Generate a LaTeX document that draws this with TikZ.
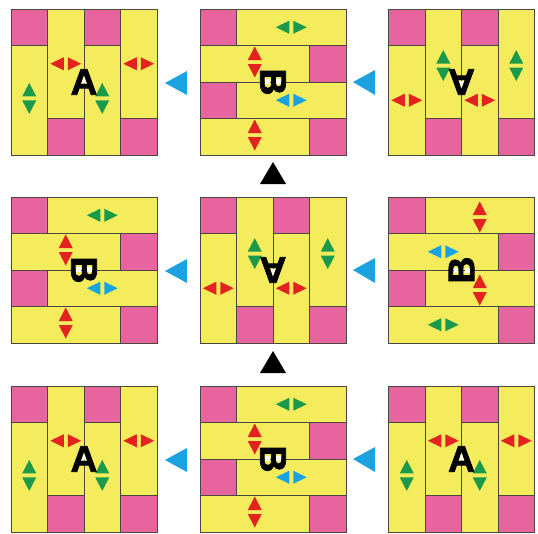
\documentclass[tikz,border=0pt]{standalone}
\usepackage{fontspec}
\newfontfamily\heavy[FakeBold=2]{Liberation Sans}
\definecolor{pyellow}{HTML}{F4EC5C}
\definecolor{ppink}{HTML}{E8649F}
\definecolor{pgreen}{HTML}{1A9A4A}
\definecolor{pred}{HTML}{E3231F}
\definecolor{pblue}{HTML}{1AA3E0}
\definecolor{pline}{HTML}{4A4740}
\tikzset{
  gridline/.style={draw=pline, line width=0.9pt},
  pinkcell/.style={fill=ppink},
  counter/.style={fill=white},
  letter/.style={font=\heavy\bfseries\fontsize{37}{37}\selectfont, inner sep=0pt, transform shape},
  bluetri/.style={fill=pblue},
  blacktri/.style={fill=black},
  hpair/.pic={
    \fill[pic actions] (-15.5,0) -- (-2,-6.5) -- (-2,6.5) -- cycle;
    \fill[pic actions] (15.5,0) -- (2,-6.5) -- (2,6.5) -- cycle;
  },
  vpair/.pic={
    \fill[pic actions] (0,-15.5) -- (-7,-2) -- (7,-2) -- cycle;
    \fill[pic actions] (0,15.5) -- (-7,2) -- (7,2) -- cycle;
  },
}
% panel type A (vertical bricks), centred at origin, cell 36.5
\newcommand\panelA[2]{%
  \fill[pyellow] (-73,-73) rectangle (73,73);
  \fill[pinkcell] (-73,-73) rectangle (-36.5,-36.5);
  \fill[pinkcell] (0,-73) rectangle (36.5,-36.5);
  \fill[pinkcell] (-36.5,36.5) rectangle (0,73);
  \fill[pinkcell] (36.5,36.5) rectangle (73,73);
  \draw[gridline] (-36.5,-73) -- (-36.5,73) (0,-73) -- (0,73) (36.5,-73) -- (36.5,73);
  \draw[gridline] (-73,-36.5) -- (-36.5,-36.5) (0,-36.5) -- (36.5,-36.5)
                  (-36.5,36.5) -- (0,36.5) (36.5,36.5) -- (73,36.5);
  \draw[gridline] (-73,-73) rectangle (73,73);
  \pic[pred] at (-18.25,-18.25) {hpair};
  \pic[pred] at (54.75,-18.25) {hpair};
  \pic[pgreen] at (-54.75,16.4) {vpair};
  \pic[pgreen] at (18.25,16.4) {vpair};
  \fill[counter] (0,-6.5) -- (-2.4,1.2) -- (2.4,1.2) -- cycle;
  \node[letter] (#1) at (0,0) {A};
}
% panel type B (horizontal bricks)
\newcommand\panelB[2]{%
  \fill[pyellow] (-73,-73) rectangle (73,73);
  \fill[pinkcell] (-73,-73) rectangle (-36.5,-36.5);
  \fill[pinkcell] (36.5,-36.5) rectangle (73,0);
  \fill[pinkcell] (-73,0) rectangle (-36.5,36.5);
  \fill[pinkcell] (36.5,36.5) rectangle (73,73);
  \draw[gridline] (-73,-36.5) -- (73,-36.5) (-73,0) -- (73,0) (-73,36.5) -- (73,36.5);
  \draw[gridline] (-36.5,-73) -- (-36.5,-36.5) (36.5,-36.5) -- (36.5,0)
                  (-36.5,0) -- (-36.5,36.5) (36.5,36.5) -- (36.5,73);
  \draw[gridline] (-73,-73) rectangle (73,73);
  \pic[pgreen] at (18.25,-54.75) {hpair};
  \pic[pred] at (-18.25,-20) {vpair};
  \pic[pblue] at (18.25,18.25) {hpair};
  \pic[pred] at (-18.25,53) {vpair};
  \fill[counter] (3.2,-3.4) rectangle (8,1.6);
  \fill[counter] (-8,-3.4) rectangle (-3.2,1.6);
  \node[letter, rotate=-90] (#1) at (0,0) {B};
}
\begin{document}
\begin{tikzpicture}[x=1pt, y=-1pt]
  \useasboundingbox (0,0) rectangle (538,533);
  \fill[white] (0,0) rectangle (538,533);
  % row 1
  \begin{scope}[shift={(84,82)}]\panelA{p1}{}\end{scope}
  \begin{scope}[shift={(273,82)}]\panelB{p2}{}\end{scope}
  \begin{scope}[shift={(461.5,82)}, rotate=180]\panelA{p3}{}\end{scope}
  % row 2
  \begin{scope}[shift={(84,270)}]\panelB{p4}{}\end{scope}
  \begin{scope}[shift={(273,270)}, rotate=180]\panelA{p5}{}\end{scope}
  \begin{scope}[shift={(461.5,270)}, rotate=180]\panelB{p6}{}\end{scope}
  % row 3
  \begin{scope}[shift={(84,459)}]\panelA{p7}{}\end{scope}
  \begin{scope}[shift={(273,459)}]\panelB{p8}{}\end{scope}
  \begin{scope}[shift={(461.5,459)}]\panelA{p9}{}\end{scope}
  % blue arrows (right to left)
  \foreach \cy in {82,270,459}{
    \fill[bluetri] (165,\cy+1) -- (187,\cy-11) -- (187,\cy+13) -- cycle;
    \fill[bluetri] (353,\cy) -- (375,\cy-12) -- (375,\cy+13) -- cycle;
  }
  % black arrows (upwards)
  \fill[blacktri] (273,162) -- (260,184) -- (286,184) -- cycle;
  \fill[blacktri] (273,351) -- (260,373) -- (286,373) -- cycle;
\end{tikzpicture}
\end{document}
